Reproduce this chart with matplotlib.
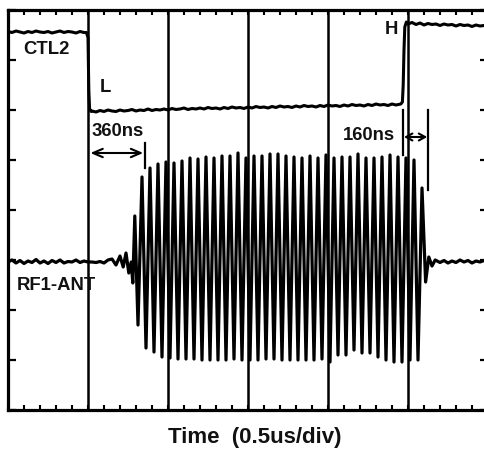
import numpy as np
import matplotlib.pyplot as plt

plt.rcParams['font.family'] = ['Liberation Sans', 'DejaVu Sans']

# time axis in divisions (0.5 us/div), voltage axis in divisions
STEP = 0.05

# CTL2 trace
ctl2_high1 = [3.57, 3.55, 3.58, 3.56, 3.54, 3.57, 3.55, 3.58, 3.56, 3.55,
              3.57, 3.54, 3.56, 3.58, 3.55, 3.57, 3.56, 3.54, 3.57, 3.55]
ctl2_fall_t = [0.98, 1.00, 1.01, 1.02, 1.04]
ctl2_fall_v = [3.55, 3.45, 2.40, 2.02, 1.97]
ctl2_low = [1.98, 1.96, 1.99, 1.97, 2.00, 1.98, 1.97, 2.00, 1.98, 1.99,
            2.01, 1.98, 2.00, 1.99, 2.02, 1.99, 2.01, 2.00, 2.02, 2.00,
            2.03, 2.01, 2.02, 2.04, 2.01, 2.03, 2.02, 2.04, 2.02, 2.05,
            2.03, 2.04, 2.02, 2.05, 2.03, 2.06, 2.04, 2.05, 2.03, 2.06,
            2.04, 2.07, 2.05, 2.06, 2.04, 2.07, 2.05, 2.08, 2.06, 2.07,
            2.05, 2.08, 2.06, 2.09, 2.07, 2.08, 2.06, 2.09, 2.07, 2.10,
            2.08, 2.09, 2.07, 2.10, 2.08, 2.11, 2.09, 2.10, 2.08, 2.11,
            2.09, 2.12, 2.10, 2.11, 2.09, 2.12, 2.10]
ctl2_rise_t = [4.91, 4.93, 4.94, 4.95, 4.96, 4.98]
ctl2_rise_v = [2.12, 2.16, 2.50, 3.20, 3.66, 3.76]
ctl2_high2 = [3.72, 3.75, 3.71, 3.74, 3.70, 3.73, 3.71, 3.72, 3.69, 3.72,
              3.70, 3.71, 3.68, 3.71, 3.69, 3.70, 3.67, 3.70, 3.68, 3.69,
              3.66]

# RF1-ANT trace
rf_pre = [-1.04, -1.00, -1.06, -1.01, -1.07, -1.02, -1.05, -0.99, -1.06, -1.02,
          -1.07, -1.01, -1.05, -1.00, -1.06, -1.03, -1.04, -1.00, -1.05, -1.02,
          -1.04, -1.04, -1.05, -1.03, -1.06, -1.00]
rf_wig_t = [1.30, 1.35, 1.40, 1.44, 1.475, 1.51, 1.54, 1.56, 1.585]
rf_wig_v = [-0.98, -1.10, -0.92, -1.14, -0.86, -1.26, -1.04, -1.46, -0.12]
burst_start = 1.675   # time of first full peak
burst_period = 0.1
burst_tops = [0.66, 0.84, 0.92, 0.96, 0.94, 0.98, 1.04, 1.02, 1.06, 1.04, 1.08,
              1.08, 1.14, 1.04, 1.08, 1.08, 1.12, 1.12, 1.08, 1.06, 1.04, 1.08,
              1.04, 1.10, 1.04, 1.06, 1.06, 1.12, 1.04, 1.04, 1.06, 1.10, 1.06,
              1.04, 1.00, 0.44]
burst_bottoms = [-2.30, -2.76, -2.84, -2.94, -2.96, -2.98, -2.98, -2.98, -3.00,
                 -3.00, -3.00, -3.00, -2.98, -3.00, -3.00, -3.00, -2.98, -2.98,
                 -3.00, -3.00, -3.00, -3.00, -3.00, -2.98, -3.04, -2.90, -2.90,
                 -2.80, -2.86, -2.86, -2.94, -3.00, -3.04, -3.04, -3.00, -3.00]
rf_end_t = [5.22, 5.26, 5.30, 5.34]
rf_end_v = [-1.44, -0.94, -1.12, -1.00]
rf_post = [-1.05, -1.01, -1.06, -1.02, -1.05, -1.00, -1.04, -1.01, -1.06, -1.02,
           -1.04, -1.01, -1.03]

# assemble traces
ctl2_t = np.concatenate([np.arange(len(ctl2_high1)) * STEP, ctl2_fall_t,
                         1.05 + np.arange(len(ctl2_low)) * STEP, ctl2_rise_t,
                         5.0 + np.arange(len(ctl2_high2)) * STEP])
ctl2_v = np.concatenate([ctl2_high1, ctl2_fall_v, ctl2_low, ctl2_rise_v, ctl2_high2])

n = len(burst_tops)
tops_t = burst_start + np.arange(n) * burst_period
bots_t = tops_t - burst_period / 2
burst_t = np.empty(2 * n)
burst_v = np.empty(2 * n)
burst_t[0::2], burst_t[1::2] = bots_t, tops_t
burst_v[0::2], burst_v[1::2] = burst_bottoms, burst_tops

rf_t = np.concatenate([np.arange(len(rf_pre)) * STEP, rf_wig_t, burst_t, rf_end_t,
                       5.40 + np.arange(len(rf_post)) * STEP])
rf_v = np.concatenate([rf_pre, rf_wig_v, burst_v, rf_end_v, rf_post])

fig = plt.figure(figsize=(4.85, 4.5), dpi=100)
ax = fig.add_axes([8 / 485, 40 / 450, 480 / 485, 400 / 450])
ax.set_xlim(0, 6)
ax.set_ylim(-4, 4)

for g in range(1, 6):
    ax.axvline(g, color='k', lw=1.8, zorder=1)

ax.plot(ctl2_t, ctl2_v, color='k', lw=2.2, solid_joinstyle='round', zorder=3)
ax.plot(rf_t, rf_v, color='k', lw=2.3, solid_joinstyle='round', zorder=3)

# markers and arrows
ax.plot([1.7125, 1.7125], [1.34, 0.84], color='k', lw=1.6)
ax.plot([4.9375, 4.9375], [2.0, 1.1], color='k', lw=1.6)
ax.plot([5.25, 5.25], [2.0, 0.4], color='k', lw=1.6)
ax.annotate('', xy=(1.03, 1.14), xytext=(1.69, 1.14),
            arrowprops=dict(arrowstyle='<->,head_length=0.7,head_width=0.3',
                            color='k', lw=1.5, shrinkA=0, shrinkB=0))
ax.annotate('', xy=(4.95, 1.46), xytext=(5.24, 1.46),
            arrowprops=dict(arrowstyle='<->,head_length=0.45,head_width=0.25',
                            color='k', lw=1.5, shrinkA=0, shrinkB=0))

lab = dict(fontsize=13.3, fontweight='bold', color='#111111')
ax.text(0.19, 3.2, 'CTL2', ha='left', va='center', **lab)
ax.text(1.15, 2.44, 'L', ha='left', va='center', **lab)
ax.text(1.05, 1.58, '360ns', ha='left', va='center', **lab)
ax.text(4.71, 3.6, 'H', ha='left', va='center', **lab)
ax.text(4.19, 1.5, '160ns', ha='left', va='center', **lab)
ax.text(0.11, -1.5, 'RF1-ANT', ha='left', va='center', **lab)

fig.text(255 / 485, 1 - 437 / 450, 'Time  (0.5us/div)', ha='center', va='center',
         fontsize=16, fontweight='bold', color='#111111')

for s in ax.spines.values():
    s.set_linewidth(2.3)
ax.set_xticks(np.arange(0, 7, 1))
ax.set_xticks(np.arange(0, 6.01, 0.2), minor=True)
ax.set_yticks(np.arange(-4, 5, 1))
ax.set_yticks([], minor=True)
ax.tick_params(which='both', direction='in', top=True, bottom=True, left=True,
               right=True, labelbottom=False, labelleft=False)
ax.tick_params(axis='x', which='both', length=3.8, width=1.5)
ax.tick_params(axis='y', which='major', length=5.5, width=1.6)

fig.savefig('out.png', dpi=100)
